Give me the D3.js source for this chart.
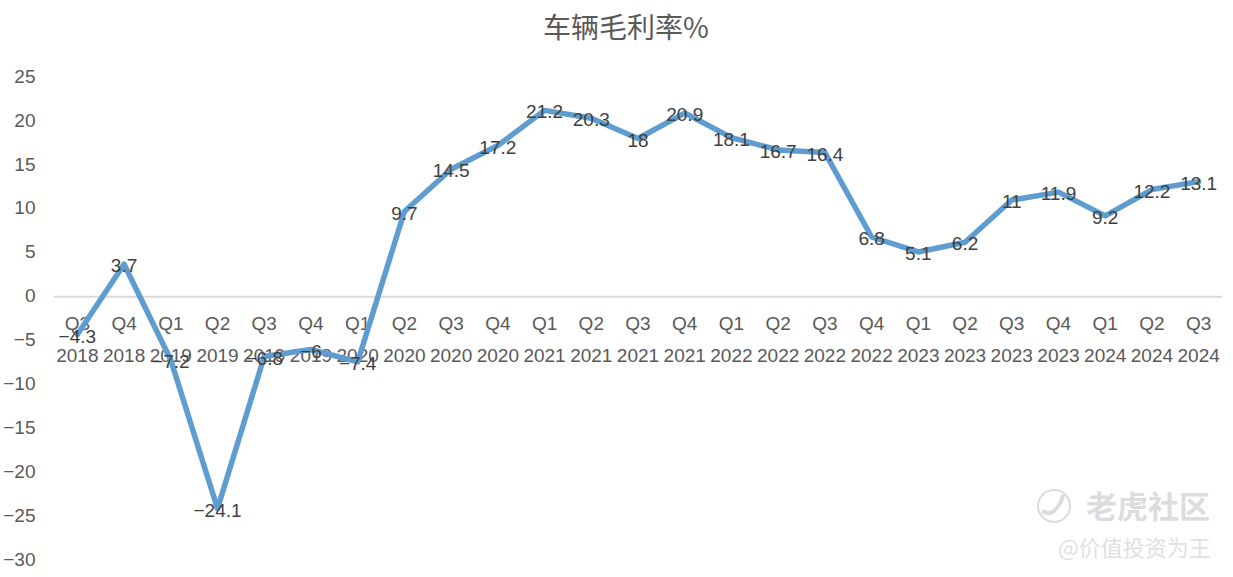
<!DOCTYPE html>
<html><head><meta charset="utf-8">
<script src="https://cdn.jsdelivr.net/npm/d3@7/dist/d3.min.js"></script>
<style>
html,body{margin:0;padding:0;background:#fff;overflow:hidden}
svg{display:block}
text{font-family:"Liberation Sans","Noto Sans CJK SC",sans-serif}
</style></head><body><svg id="c" width="1233" height="577"></svg>
<script>
const quarters=["Q3","Q4","Q1","Q2","Q3","Q4","Q1","Q2","Q3","Q4","Q1","Q2","Q3","Q4","Q1","Q2","Q3","Q4","Q1","Q2","Q3","Q4","Q1","Q2","Q3"];
const years=["2018","2018","2019","2019","2019","2019","2020","2020","2020","2020","2021","2021","2021","2021","2022","2022","2022","2022","2023","2023","2023","2023","2024","2024","2024"];
const margin=[-4.3,3.7,-7.2,-24.1,-6.8,-6,-7.4,9.7,14.5,17.2,21.2,20.3,18,20.9,18.1,16.7,16.4,6.8,5.1,6.2,11,11.9,9.2,12.2,13.1];
const yTicks=[25,20,15,10,5,0,-5,-10,-15,-20,-25,-30];
const titleText="车辆毛利率%";
const wmMain="老虎社区", wmSub="@价值投资为王";

const svg=d3.select("#c");
const keys=quarters.map((q,i)=>i);
const x=d3.scaleBand().domain(keys).range([54,1222]);
const cx=i=>x(i)+x.bandwidth()/2;
const y=d3.scaleLinear().domain([-30,25]).range([560.5,77]);

svg.append("text").attr("x",626).attr("y",38).attr("text-anchor","middle")
  .attr("font-size",28).attr("fill","#595959")
  .style("font-family",'"Noto Sans CJK SC",sans-serif').text(titleText);

const ya=svg.append("g").attr("transform","translate(35.5,-1)")
  .call(d3.axisLeft(y).tickValues(yTicks).tickSize(0).tickPadding(0).tickFormat(d=>d<0?"\u2212"+(-d):d));
ya.select(".domain").remove();
ya.selectAll("text").attr("font-size",19).attr("fill","#595959").style("font-family",'"Liberation Sans",sans-serif');

svg.append("line").attr("x1",54).attr("x2",1222).attr("y1",y(0)).attr("y2",y(0))
  .attr("stroke","#d9d9d9").attr("stroke-width",2);

const xa=svg.append("g").attr("transform",`translate(0,${y(0)})`)
  .call(d3.axisBottom(x).tickSize(0).tickPadding(0).tickFormat(()=>""));
xa.select(".domain").remove();
xa.selectAll(".tick text").each(function(d){
  const t=d3.select(this).text(null).attr("font-size",19).attr("fill","#595959").attr("y",null).attr("dy",null);
  t.append("tspan").attr("x",0).attr("y",33).text(quarters[d]);
  t.append("tspan").attr("x",0).attr("y",65.5).text(years[d]);
});

svg.append("path").datum(margin)
  .attr("d",d3.line().x((d,i)=>cx(i)).y(d=>y(d)))
  .attr("fill","none").attr("stroke","#5f9dd1").attr("stroke-width",5.5)
  .attr("stroke-linejoin","round").attr("stroke-linecap","round");

svg.append("g").selectAll("text").data(margin).join("text")
  .attr("x",(d,i)=>cx(i)).attr("y",d=>y(d)+8)
  .attr("text-anchor","middle").attr("font-size",19).attr("fill","#404040")
  .text(d=>d<0?"\u2212"+(-d):d);

const wm=svg.append("g").attr("fill","#dcdce0");
wm.append("circle").attr("cx",1054).attr("cy",506).attr("r",16).attr("fill","none").attr("stroke","#dcdce0").attr("stroke-width",2);
wm.append("path").attr("d","M1042 511q8 5 14-2t7-14").attr("fill","none").attr("stroke","#dcdce0").attr("stroke-width",4);
wm.append("text").attr("x",1086).attr("y",518).attr("font-size",31).attr("font-weight",700)
  .style("font-family",'"Noto Sans CJK SC",sans-serif').text(wmMain);
wm.append("text").attr("x",1058).attr("y",556).attr("font-size",22)
  .style("font-family",'"Noto Sans CJK SC",sans-serif').attr("fill","#e0e0e4").text(wmSub);
</script></body></html>
